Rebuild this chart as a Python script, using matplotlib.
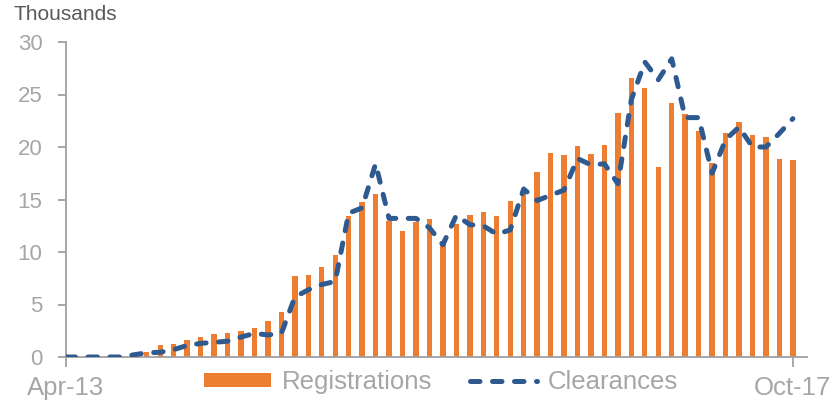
import matplotlib
matplotlib.use("Agg")
import matplotlib.pyplot as plt
import numpy as np

# Monthly data, Apr-13 .. Oct-17 (thousands)
registrations = [0, 0, 0, 0, 0, 0.3, 0.45, 1.1, 1.27, 1.65, 1.9, 2.2, 2.3, 2.5, 2.8,
                 3.4, 4.3, 7.7, 7.8, 8.6, 9.7, 13.4, 14.8, 15.5, 13.0, 12.0, 12.9, 13.1,
                 10.8, 12.7, 13.5, 13.8, 13.4, 14.9, 16.0, 17.6, 19.4, 19.2, 20.1, 19.3,
                 20.2, 23.2, 26.6, 25.6, 18.1, 24.2, 23.1, 21.5, 18.5, 21.3, 22.4, 21.1,
                 21.0, 18.9, 18.8]
clearances = [0, 0, 0, 0, 0, 0.2, 0.4, 0.45, 0.7, 1.1, 1.3, 1.4, 1.5, 1.9, 2.25,
              2.1, 2.25, 5.7, 6.4, 6.9, 7.2, 13.7, 14.2, 18.4, 13.2, 13.2, 13.2, 12.3,
              10.7, 13.5, 12.6, 12.5, 11.7, 12.1, 16.0, 14.9, 15.4, 15.9, 18.9, 18.3,
              18.4, 16.5, 24.5, 28.1, 26.4, 28.4, 22.8, 22.8, 17.5, 20.7, 21.9, 20.0,
              20.0, 21.3, 22.7]
tick_labels = ["Apr-13", "Oct-17"]
y_ticks = [0, 5, 10, 15, 20, 25, 30]

plt.rcParams['font.family'] = ['Liberation Sans', 'DejaVu Sans']

x = np.arange(len(registrations))

fig = plt.figure(figsize=(8.34, 4.03), dpi=100)
ax = fig.add_axes([66/834, 1-357/403, (807-66)/834, (357-42)/403])

bar_c = '#ED7D31'
line_c = '#2F5A8F'
axis_c = '#A0A0A0'
label_c = '#A6A6A6'

bars = ax.bar(x, registrations, width=0.4, color=bar_c, label='Registrations', zorder=2)
ln, = ax.plot(x, clearances, color=line_c, lw=3.6, label='Clearances', zorder=3,
              solid_capstyle='round', dash_capstyle='round')
ln.set_dashes([1.9, 2.5])

ax.set_xlim(0, 55.05)
ax.set_ylim(0, 30)
ax.set_yticks(y_ticks)
ax.set_xticks([0, len(x)-1])
ax.set_xticklabels(tick_labels)

for s in ['top', 'right']:
    ax.spines[s].set_visible(False)
for s in ['left', 'bottom']:
    ax.spines[s].set_color(axis_c)
    ax.spines[s].set_linewidth(1.3)

ax.tick_params(axis='y', direction='out', length=6, width=1.3, color=axis_c,
               labelcolor=label_c, labelsize=16, pad=11)
ax.tick_params(axis='x', direction='out', length=7, width=1.3, color=axis_c,
               labelcolor=label_c, labelsize=18.5, pad=7)

fig.text(13/834, 1-5/403, 'Thousands', ha='left', va='top', fontsize=15, color='#595959')

leg = fig.legend([bars, ln], ['Registrations', 'Clearances'],
                 loc='center', bbox_to_anchor=(441/834, 1-382/403), ncol=2,
                 frameon=False, fontsize=18.5, handlelength=2.6, handleheight=0.5,
                 handletextpad=0.4, columnspacing=1.5, borderpad=0)
for t in leg.get_texts():
    t.set_color(label_c)

fig.savefig('out.png', dpi=100)
